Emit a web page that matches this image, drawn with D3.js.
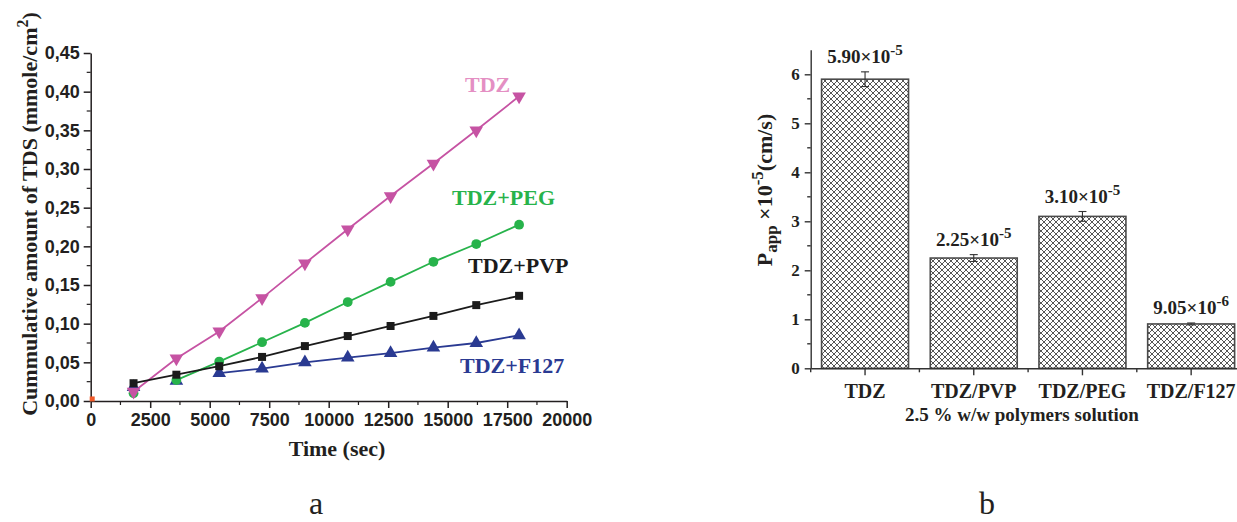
<!DOCTYPE html>
<html>
<head>
<meta charset="utf-8">
<script src="https://cdn.jsdelivr.net/npm/d3@7"></script>
<style>
  body { margin: 0; background: #fff; }
  svg { display: block; }
  .serif { font-family: "Liberation Serif", "Times New Roman", serif; font-weight: bold; fill: #231f20; }
  .sans { font-family: "Liberation Sans", Arial, sans-serif; font-weight: bold; fill: #231f20; }
</style>
</head>
<body>
<svg id="chart" width="1237" height="522"></svg>
<script>
// panel a: cumulative amount vs time
const times = [1800, 3600, 5400, 7200, 9000, 10800, 12600, 14400, 16200, 18000];
const tdz  = [0.012, 0.055, 0.090, 0.133, 0.178, 0.222, 0.265, 0.307, 0.350, 0.394];
const peg  = [0.010, 0.027, 0.051, 0.076, 0.101, 0.128, 0.154, 0.180, 0.203, 0.228];
const pvp  = [0.023, 0.034, 0.045, 0.057, 0.071, 0.084, 0.097, 0.110, 0.124, 0.136];
const f127 = [0.018, 0.026, 0.036, 0.042, 0.050, 0.056, 0.062, 0.069, 0.075, 0.085];
const seriesNames = ["TDZ", "TDZ+PEG", "TDZ+PVP", "TDZ+F127"];
const lineStart = [0, 1, 0, 2]; // first point joined by the line
const xTicksA = [0, 2500, 5000, 7500, 10000, 12500, 15000, 17500, 20000];
const yTicksA = [0, 0.05, 0.10, 0.15, 0.20, 0.25, 0.30, 0.35, 0.40, 0.45];

// panel b: apparent permeability
const groups = ["TDZ", "TDZ/PVP", "TDZ/PEG", "TDZ/F127"];
const papp = [5.90, 2.25, 3.10, 0.905];
const pappErr = [0.15, 0.07, 0.10, 0.02];
const pappMant = ["5.90", "2.25", "3.10", "9.05"];
const pappExp = ["-5", "-5", "-5", "-6"];
const yTicksB = [0, 1, 2, 3, 4, 5, 6];

const svg = d3.select("#chart");
const axisColor = "#231f20";

// ---------- panel a ----------
const xA = d3.scaleLinear().domain([0, 20000]).range([90.7, 566.7]);
const yA = d3.scaleLinear().domain([0, 0.45]).range([401, 53]);

const gA = svg.append("g");

// minor ticks
gA.append("g").selectAll("line").data(d3.range(1250, 20000, 2500)).join("line")
  .attr("x1", d => xA(d)).attr("x2", d => xA(d))
  .attr("y1", yA(0)).attr("y2", yA(0) + 4)
  .attr("stroke", axisColor).attr("stroke-width", 1.2);
gA.append("g").selectAll("line").data(d3.range(0.025, 0.45, 0.05)).join("line")
  .attr("y1", d => yA(d)).attr("y2", d => yA(d))
  .attr("x1", xA(0)).attr("x2", xA(0) - 4)
  .attr("stroke", axisColor).attr("stroke-width", 1.2);

const axA_x = gA.append("g").attr("transform", `translate(0,${yA(0)})`)
  .call(d3.axisBottom(xA).tickValues(xTicksA).tickSize(7).tickSizeOuter(0).tickPadding(5).tickFormat(d3.format("d")));
const axA_y = gA.append("g").attr("transform", `translate(${xA(0)},0)`)
  .call(d3.axisLeft(yA).tickValues(yTicksA).tickSize(7).tickSizeOuter(0).tickPadding(4)
    .tickFormat(d => d3.format(".2f")(d).replace(".", ",")));
[axA_x, axA_y].forEach(a => {
  a.selectAll("path, line").attr("stroke", axisColor).attr("stroke-width", 1.5);
  a.selectAll("text").attr("class", "sans").style("font-size", "18px");
});

const colors = ["#c653a3", "#27b34b", "#1b1b1b", "#2a3a92"];
const labelColors = ["#e48fc3", "#27b34b", "#1b1b1b", "#2a3a92"];
const allSeries = [tdz, peg, pvp, f127];
const line = d3.line().x(d => xA(d[0])).y(d => yA(d[1]));

allSeries.forEach((vals, i) => {
  const pts = times.map((t, j) => [t, vals[j]]);
  gA.append("path").datum(pts.slice(lineStart[i]))
    .attr("d", line).attr("fill", "none")
    .attr("stroke", colors[i]).attr("stroke-width", 1.8);
});

const symbols = [d3.symbolTriangle, d3.symbolCircle, d3.symbolSquare, d3.symbolTriangle];
const symSizes = [80, 75, 64, 80];
const symRot = [180, 0, 0, 0];
// draw markers: triangles-up first, so the square overlays
[3, 1, 0, 2].forEach(i => {
  gA.append("g").selectAll("path").data(times.map((t, j) => [t, allSeries[i][j]])).join("path")
    .attr("d", d3.symbol(symbols[i], symSizes[i]))
    .attr("transform", d => `translate(${xA(d[0])},${yA(d[1])}) rotate(${symRot[i]})`)
    .attr("fill", colors[i]);
});
// marker at origin
gA.append("rect").attr("x", xA(0) - 1).attr("y", yA(0.002) - 3).attr("width", 5).attr("height", 5)
  .attr("fill", "#f15a29");

const labelPos = [[465, 92], [452, 205], [468, 273], [460, 373]];
seriesNames.forEach((n, i) => {
  gA.append("text").attr("class", "serif")
    .attr("x", labelPos[i][0]).attr("y", labelPos[i][1])
    .style("font-size", "22px").style("fill", labelColors[i]).text(n);
});

// axis titles
const yTitleA = gA.append("text").attr("class", "serif")
  .attr("transform", "translate(37,214) rotate(-90)")
  .attr("text-anchor", "middle").style("font-size", "22px");
yTitleA.append("tspan").text("Cummulative amount of TDS (mmole/cm");
yTitleA.append("tspan").attr("dy", -9).style("font-size", "16px").text("2");
yTitleA.append("tspan").attr("dy", 9).text(")");

gA.append("text").attr("class", "serif").attr("x", 337).attr("y", 456)
  .attr("text-anchor", "middle").style("font-size", "22px").text("Time (sec)");

svg.append("text").attr("x", 316).attr("y", 514).attr("text-anchor", "middle")
  .style("font-family", "Liberation Serif, serif").style("font-size", "32px").style("fill", "#231f20").text("a");

// ---------- panel b ----------
const defs = svg.append("defs");
const pat = defs.append("pattern").attr("id", "hatch")
  .attr("patternUnits", "userSpaceOnUse").attr("width", 6).attr("height", 6);
pat.append("rect").attr("width", 6).attr("height", 6).attr("fill", "#fff");
pat.append("path").attr("d", "M0,0 L6,6 M6,0 L0,6 M-1,5 L1,7 M5,-1 L7,1 M-1,1 L1,-1 M5,7 L7,5")
  .attr("stroke", "#2b2b2b").attr("stroke-width", 0.8);

const xB = d3.scaleBand().domain(groups).range([810.7, 1245.5]).paddingInner(0.2).paddingOuter(0.1);
const yB = d3.scaleLinear().domain([0, 6.5]).range([368.3, 49.8]);
const gB = svg.append("g");

gB.selectAll("rect.bar").data(groups).join("rect").attr("class", "bar")
  .attr("x", d => xB(d)).attr("width", xB.bandwidth())
  .attr("y", (d, i) => yB(papp[i])).attr("height", (d, i) => yB(0) - yB(papp[i]))
  .attr("fill", "url(#hatch)").attr("stroke", "#4a4a4a").attr("stroke-width", 1.6);

// error bars
groups.forEach((g, i) => {
  const cx = xB(g) + xB.bandwidth() / 2;
  const eg = gB.append("g").attr("stroke", "#333").attr("stroke-width", 1.1);
  eg.append("line").attr("x1", cx).attr("x2", cx).attr("y1", yB(papp[i] - pappErr[i])).attr("y2", yB(papp[i] + pappErr[i]));
  [papp[i] - pappErr[i], papp[i] + pappErr[i]].forEach(v => {
    eg.append("line").attr("x1", cx - 4).attr("x2", cx + 4).attr("y1", yB(v)).attr("y2", yB(v));
  });
  const t = gB.append("text").attr("class", "serif").attr("text-anchor", "middle")
    .attr("x", cx).attr("y", yB(papp[i] + pappErr[i]) - 9).style("font-size", "19px");
  t.append("tspan").text(pappMant[i] + "×10");
  t.append("tspan").attr("dy", -8).style("font-size", "15px").text(pappExp[i]);
});

// axes
const step = xB.step();
const bounds = d3.range(0, 5).map(k => 810.7 + k * step);
gB.append("g").selectAll("line").data(bounds).join("line")
  .attr("x1", d => d).attr("x2", d => d).attr("y1", yB(0)).attr("y2", yB(0) + 4)
  .attr("stroke", "#333").attr("stroke-width", 1.4);
gB.append("g").selectAll("line").data(d3.range(0.5, 6.5, 1)).join("line")
  .attr("y1", d => yB(d)).attr("y2", d => yB(d)).attr("x1", 810.7).attr("x2", 807.2)
  .attr("stroke", "#333").attr("stroke-width", 1.4);

const axB_x = gB.append("g").attr("transform", `translate(0,${yB(0)})`)
  .call(d3.axisBottom(xB).tickSize(7).tickSizeOuter(0).tickPadding(9));
const axB_y = gB.append("g").attr("transform", "translate(810.7,0)")
  .call(d3.axisLeft(yB).tickValues(yTicksB).tickSize(6).tickSizeOuter(0).tickPadding(5).tickFormat(d3.format("d")));
[axB_x, axB_y].forEach(a => {
  a.selectAll("path, line").attr("stroke", "#333").attr("stroke-width", 1.4);
  a.selectAll("text").attr("class", "serif");
});
axB_x.selectAll("text").style("font-size", "20px");
axB_y.selectAll("text").style("font-size", "17px");

gB.append("text").attr("class", "serif").attr("x", 1022).attr("y", 421)
  .attr("text-anchor", "middle").style("font-size", "19px").text("2.5 % w/w polymers solution");

const yTitleB = gB.append("text").attr("class", "serif")
  .attr("transform", "translate(772,190) rotate(-90)")
  .attr("text-anchor", "middle").style("font-size", "22px");
yTitleB.append("tspan").text("P");
yTitleB.append("tspan").attr("dy", 5).style("font-size", "17px").text("app");
yTitleB.append("tspan").attr("dy", -5).text(" ×10");
yTitleB.append("tspan").attr("dy", -9).style("font-size", "17px").text("-5");
yTitleB.append("tspan").attr("dy", 9).text("(cm/s)");

svg.append("text").attr("x", 987).attr("y", 514).attr("text-anchor", "middle")
  .style("font-family", "Liberation Serif, serif").style("font-size", "32px").style("fill", "#231f20").text("b");
</script>
</body>
</html>
